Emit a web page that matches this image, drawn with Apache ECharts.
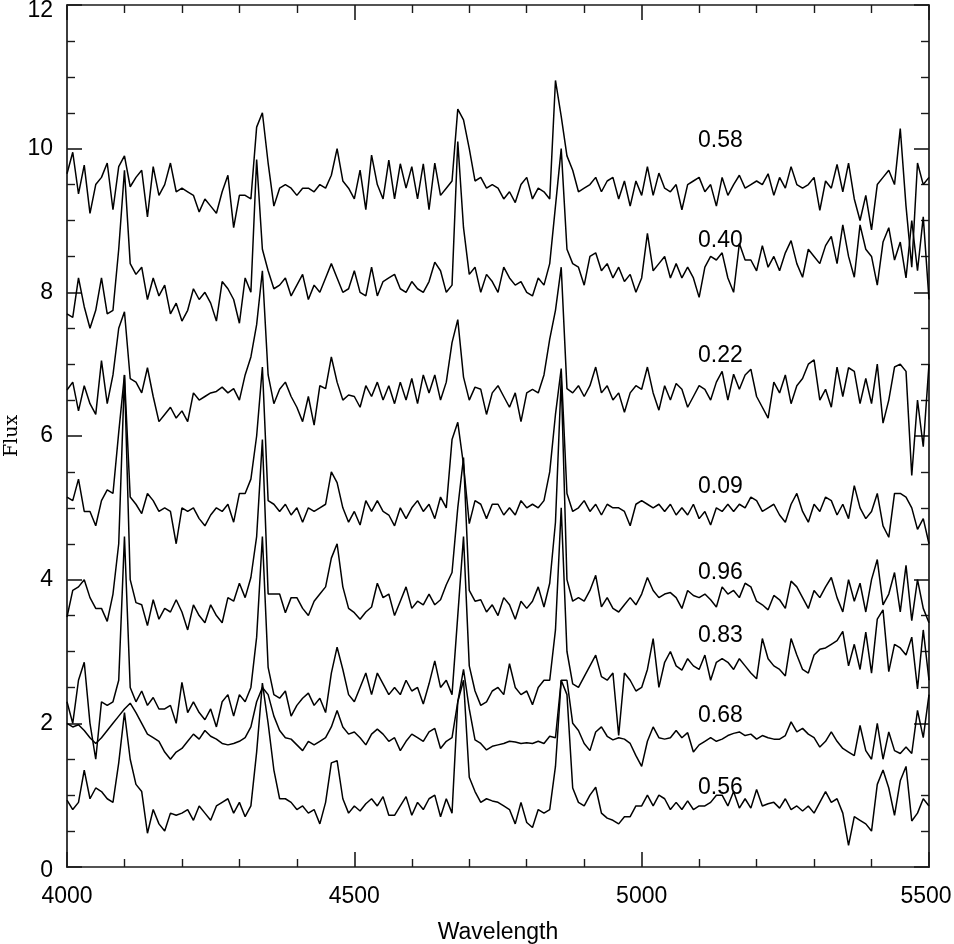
<!DOCTYPE html>
<html><head><meta charset="utf-8">
<script src="https://cdn.jsdelivr.net/npm/echarts@6/dist/echarts.min.js"></script>
<style>html,body{margin:0;padding:0;background:#fff}#c{width:954px;height:944px}</style>
</head><body><div id="c"></div>
<script>
// wavelength grid of the sampled spectra (Angstrom)
const WL_START = 4000, WL_STEP = 10;
const phases = ['0.58','0.40','0.22','0.09','0.96','0.83','0.68','0.56'];
const labelX = [5098,5098,5098,5098,5098,5098,5098,5098];
const labelY = [10.11,8.72,7.12,5.30,4.10,3.22,2.11,1.10];
const xTicks = [4000,4500,5000,5500];
const yTicks = [0,2,4,6,8,10,12];

const s058 = [9.65,9.95,9.37,9.77,9.1,9.5,9.6,9.8,9.15,9.75,
9.9,9.47,9.6,9.7,9.05,9.75,9.35,9.5,9.8,9.4,
9.45,9.4,9.35,9.12,9.3,9.2,9.1,9.4,9.63,8.9,
9.35,9.35,9.3,10.3,10.5,9.8,9.2,9.45,9.5,9.45,
9.35,9.45,9.45,9.4,9.5,9.45,9.63,10.0,9.55,9.45,
9.3,9.7,9.15,9.91,9.5,9.3,9.84,9.3,9.79,9.45,
9.75,9.3,9.79,9.15,9.8,9.35,9.45,9.55,10.55,10.4,
10.0,9.55,9.6,9.45,9.5,9.45,9.3,9.4,9.25,9.5,
9.6,9.3,9.45,9.4,9.3,10.95,10.45,9.9,9.7,9.4,
9.45,9.5,9.6,9.4,9.55,9.6,9.3,9.55,9.2,9.55,
9.35,9.75,9.35,9.66,9.45,9.4,9.5,9.15,9.5,9.55,
9.6,9.4,9.5,9.2,9.6,9.35,9.5,9.63,9.45,9.5,
9.55,9.5,9.65,9.35,9.6,9.45,9.75,9.5,9.45,9.5,
9.6,9.14,9.55,9.45,9.78,9.4,9.8,9.3,9.0,9.35,
8.87,9.5,9.6,9.7,9.5,10.28,9.2,8.35,9.8,9.5,9.6];

const s040 = [7.7,7.65,8.2,7.8,7.5,7.75,8.2,7.7,7.75,8.6,
9.7,8.4,8.25,8.35,7.9,8.2,7.95,8.1,7.7,7.85,
7.6,7.75,8.05,7.9,8.0,7.85,7.6,8.15,8.05,7.9,
7.57,8.2,8.0,9.85,8.6,8.3,8.05,8.1,8.2,7.95,
8.1,8.25,7.9,8.1,8.0,8.2,8.4,8.2,8.0,8.05,
8.3,8.0,7.95,8.35,7.95,8.15,8.2,8.25,8.05,8.0,
8.15,8.05,8.0,8.15,8.42,8.3,8.0,8.1,10.1,8.9,
8.25,8.35,8.0,8.25,8.15,8.0,8.35,8.2,8.1,8.15,
8.0,7.95,8.2,8.1,8.4,9.2,10.0,8.6,8.4,8.35,
8.1,8.5,8.55,8.3,8.4,8.2,8.35,8.15,8.25,8.0,
8.2,8.82,8.3,8.4,8.5,8.2,8.4,8.2,8.35,8.2,
7.93,8.35,8.5,8.45,8.55,8.2,8.0,8.68,8.45,8.45,
8.3,8.65,8.35,8.5,8.3,8.55,8.72,8.4,8.21,8.6,
8.5,8.4,8.65,8.78,8.4,8.94,8.5,8.21,8.94,8.6,
8.5,8.1,8.7,8.9,8.45,8.7,8.2,9.0,8.3,9.05,7.9];

const s022 = [6.64,6.75,6.35,6.7,6.45,6.3,7.05,6.45,6.85,7.5,
7.73,6.8,6.75,6.6,6.95,6.55,6.2,6.3,6.4,6.25,
6.35,6.2,6.6,6.5,6.55,6.6,6.62,6.68,6.6,6.66,
6.5,6.85,7.1,7.55,8.3,6.85,6.45,6.65,6.75,6.55,
6.4,6.2,6.55,6.15,6.7,6.66,7.1,6.75,6.5,6.57,
6.55,6.4,6.7,6.55,6.75,6.5,6.7,6.45,6.75,6.5,
6.8,6.45,6.85,6.6,6.85,6.5,6.75,7.3,7.62,6.82,
6.5,6.68,6.65,6.3,6.6,6.7,6.55,6.4,6.6,6.2,
6.6,6.65,6.6,6.85,7.35,7.75,8.35,6.66,6.6,6.7,
6.55,6.7,6.96,6.6,6.7,6.5,6.6,6.33,6.6,6.7,
6.65,6.96,6.6,6.36,6.7,6.5,6.73,6.65,6.4,6.55,
6.7,6.65,6.5,6.75,6.9,6.5,6.86,6.65,6.85,6.93,
6.55,6.4,6.25,6.75,6.6,6.85,6.45,6.7,6.8,7.0,
7.06,6.5,6.65,6.4,6.96,6.55,6.95,6.9,6.45,6.8,
6.45,7.0,6.18,6.5,6.96,7.0,6.9,5.45,6.5,5.85,7.0];

const s009 = [5.15,5.1,5.4,4.95,4.95,4.75,5.1,5.25,5.2,6.05,
6.85,5.15,5.05,4.92,5.2,5.1,4.95,5.0,4.95,4.5,
5.0,4.95,5.0,4.85,4.75,4.9,5.0,4.95,5.05,4.8,
5.2,5.2,5.4,6.0,6.96,5.1,5.05,4.95,5.05,4.9,
5.0,4.8,5.0,4.95,5.0,5.05,5.5,5.35,5.0,4.8,
4.95,4.76,5.1,4.95,5.1,4.95,4.9,4.75,5.0,4.85,
5.0,5.1,4.95,5.05,4.85,5.15,5.0,5.95,6.19,5.6,
4.78,5.1,5.05,4.85,5.05,5.05,4.9,5.0,4.9,5.1,
5.0,5.05,5.0,5.1,5.5,6.3,6.94,5.2,4.95,5.0,
5.1,4.95,5.05,4.9,5.05,5.0,5.0,4.95,4.75,5.05,
5.1,5.05,5.0,5.05,4.95,5.05,4.9,5.0,4.9,5.05,
4.85,4.95,4.76,5.0,4.95,5.05,4.95,5.05,5.0,5.15,
5.1,4.95,5.0,5.05,4.9,4.8,5.05,5.2,4.95,4.8,
5.05,4.95,5.15,5.1,4.9,5.05,4.85,5.31,5.0,4.85,
4.95,5.2,4.75,4.59,5.2,5.2,5.15,5.0,4.7,4.85,4.5];

const s096 = [3.48,3.85,3.9,4.0,3.75,3.6,3.6,3.42,3.8,4.5,
6.85,4.0,3.68,3.65,3.36,3.72,3.45,3.6,3.55,3.72,
3.55,3.3,3.65,3.5,3.4,3.65,3.5,3.4,3.75,3.7,
3.95,3.75,4.03,4.6,5.95,3.8,3.8,3.8,3.54,3.75,
3.75,3.6,3.5,3.7,3.8,3.9,4.3,4.5,3.9,3.6,
3.54,3.45,3.55,3.62,3.95,3.75,3.8,3.5,3.7,3.9,
3.6,3.7,3.65,3.8,3.65,3.72,3.93,4.1,5.0,5.7,
3.85,3.7,3.72,3.55,3.65,3.5,3.75,3.65,3.45,3.7,
3.6,3.7,3.9,3.62,3.95,4.8,6.8,4.0,3.7,3.75,
3.7,3.85,4.06,3.62,3.75,3.6,3.55,3.65,3.75,3.65,
3.8,4.03,3.85,3.75,3.8,3.82,3.75,3.6,3.85,3.78,
3.75,3.8,3.72,3.62,3.9,3.8,3.85,3.75,3.95,3.9,
3.7,3.65,3.58,3.78,3.72,3.6,3.98,3.9,3.75,3.6,
3.85,3.75,3.9,4.03,3.75,3.55,4.0,3.7,3.95,3.55,
4.0,4.28,3.65,3.8,4.1,3.55,4.2,3.43,4.0,3.6,3.4];

const s083 = [2.3,2.0,2.6,2.85,2.0,1.5,2.3,2.25,2.3,2.6,
4.6,2.5,2.3,2.45,2.25,2.36,2.2,2.2,2.25,2.0,
2.57,2.15,2.3,2.15,2.05,2.2,1.95,2.3,2.4,2.1,
2.4,2.3,2.5,3.2,4.6,2.78,2.4,2.35,2.45,2.1,
2.25,2.35,2.42,2.25,2.35,2.15,2.7,3.06,2.75,2.4,
2.3,2.5,2.7,2.4,2.7,2.55,2.4,2.5,2.4,2.6,
2.45,2.5,2.27,2.55,2.87,2.5,2.6,2.4,3.5,4.6,
2.8,2.45,2.25,2.3,2.45,2.5,2.4,2.83,2.5,2.4,
2.45,2.26,2.5,2.6,2.6,3.3,5.0,3.0,2.55,2.5,
2.65,2.8,2.95,2.65,2.6,2.7,1.83,2.7,2.6,2.45,
2.5,2.75,3.18,2.5,2.85,3.0,2.8,2.74,2.9,2.8,
2.75,2.95,2.6,2.85,2.9,2.85,2.75,2.9,2.8,2.7,
2.62,3.18,2.9,2.8,2.75,2.66,3.18,2.95,2.75,2.7,
2.95,3.03,3.05,3.1,3.15,3.28,2.8,3.1,2.75,3.27,
2.7,3.45,3.58,2.72,3.1,3.05,2.95,3.2,2.48,3.3,2.6];

const s068 = [2.0,1.95,1.98,1.9,1.8,1.72,1.8,1.9,2.0,2.1,
2.2,2.28,2.15,2.0,1.85,1.8,1.75,1.6,1.5,1.6,
1.65,1.75,1.85,1.78,1.9,1.82,1.78,1.72,1.7,1.72,
1.75,1.8,1.95,2.3,2.5,2.4,2.1,1.9,1.8,1.78,
1.7,1.62,1.75,1.7,1.75,1.8,1.95,2.18,1.95,1.85,
1.88,1.8,1.7,1.85,1.92,1.85,1.75,1.8,1.62,1.75,
1.85,1.8,1.75,1.88,1.93,1.65,1.75,1.8,2.3,2.75,
2.2,1.77,1.72,1.63,1.68,1.7,1.72,1.75,1.74,1.72,
1.73,1.72,1.75,1.72,1.82,1.8,2.6,2.6,2.0,1.9,
1.72,1.62,1.88,1.95,1.82,1.77,1.8,1.78,1.72,1.55,
1.4,1.75,1.95,1.8,1.78,1.8,1.9,1.8,1.87,1.6,
1.7,1.75,1.8,1.75,1.78,1.83,1.86,1.88,1.83,1.85,
1.78,1.83,1.8,1.78,1.78,1.83,2.02,1.88,1.93,1.85,
1.8,1.67,1.75,1.88,1.75,1.65,1.6,1.55,1.97,1.62,
1.5,2.0,1.5,1.88,1.62,1.58,1.67,1.58,2.18,1.8,2.4];

const s056 = [0.93,0.8,0.9,1.35,0.95,1.1,1.05,0.95,0.9,1.45,
2.15,1.5,1.15,1.05,0.47,0.8,0.6,0.5,0.75,0.72,
0.75,0.8,0.65,0.85,0.75,0.65,0.85,0.9,0.95,0.75,
0.9,0.7,0.85,1.6,2.56,2.0,1.35,0.95,0.95,0.9,
0.8,0.85,0.75,0.8,0.6,0.9,1.45,1.48,0.95,0.75,
0.85,0.78,0.88,0.95,0.85,0.98,0.72,0.72,0.85,0.98,
0.72,0.9,0.8,0.95,1.0,0.7,0.95,0.75,2.3,2.6,
1.25,1.05,0.9,0.95,0.92,0.9,0.85,0.8,0.6,0.9,
0.62,0.55,0.8,0.75,0.8,1.4,2.6,2.4,1.1,0.9,
0.85,1.0,1.11,0.75,0.68,0.65,0.6,0.7,0.7,0.85,
0.85,1.0,0.85,1.0,0.95,0.8,0.9,0.8,0.92,0.8,
0.85,0.85,0.9,1.0,1.0,0.85,1.05,0.82,0.95,0.82,
1.08,0.85,0.88,0.9,0.82,0.95,0.8,0.85,0.78,0.85,
0.75,0.9,1.05,0.9,0.95,0.75,0.3,0.7,0.65,0.6,
0.5,1.15,1.35,1.1,0.72,1.2,1.4,0.64,0.75,0.95,0.85];

const spectra = [s058,s040,s022,s009,s096,s083,s068,s056];

const FONT = 'Liberation Sans, Arial, Helvetica, sans-serif';
const AX = '#1a1a1a';

function toPairs(arr){ return arr.map((v,i)=>[WL_START + i*WL_STEP, v]); }

const lblStyle = {fontSize:23, color:'#000', fontFamily:FONT};

function xAx(pos, showLabel){
  const xMax = xTicks[xTicks.length-1];
  return {
    type:'value', position:pos, min:xTicks[0], max:xMax,
    interval:xTicks[1]-xTicks[0],
    axisLine:{show:true, onZero:false, lineStyle:{color:AX,width:1.7}},
    axisTick:{show:true, inside:true, length:15, lineStyle:{color:AX,width:1.6}},
    minorTick:{show:true, splitNumber:5, length:8, lineStyle:{color:AX,width:1.4}},
    splitLine:{show:false}, minorSplitLine:{show:false},
    axisLabel:{show:showLabel, fontSize:23, color:'#000', fontFamily:FONT, margin:18,
      formatter:(v)=> v===xMax ? '{r|'+v+'}' : String(v),
      rich:{r:Object.assign({padding:[0,6,0,0]}, lblStyle)}},
    name: showLabel ? 'Wavelength' : '',
    nameLocation:'middle', nameGap:54, nameMoveOverlap:false,
    nameTextStyle:{fontSize:23, color:'#000', fontFamily:FONT}
  };
}
function yAx(pos, showLabel){
  const yMax = yTicks[yTicks.length-1], yMin = yTicks[0];
  return {
    type:'value', position:pos, min:yMin, max:yMax,
    interval:yTicks[1]-yTicks[0],
    axisLine:{show:true, onZero:false, lineStyle:{color:AX,width:1.7}},
    axisTick:{show:true, inside:true, length:15, lineStyle:{color:AX,width:1.6}},
    minorTick:{show:true, splitNumber:4, length:8, lineStyle:{color:AX,width:1.4}},
    splitLine:{show:false}, minorSplitLine:{show:false},
    axisLabel:{show:showLabel, fontSize:23, color:'#000', fontFamily:FONT, margin:14,
      formatter:(v)=> v===yMax ? '{t|'+v+'}' : (v===yMin ? '{b|'+v+'}' : String(v)),
      rich:{t:Object.assign({padding:[11,0,0,0]}, lblStyle),
            b:Object.assign({padding:[8,0,0,0]}, lblStyle)}},
    name: showLabel ? 'Flux' : '',
    nameLocation:'middle', nameGap:45, nameRotate:90, nameMoveOverlap:false,
    nameTextStyle:{fontSize:19, color:'#000', fontFamily:'DejaVu Serif, Liberation Serif, serif'}
  };
}

const series = spectra.map((arr,k)=>({
  type:'line', name:phases[k], data:toPairs(arr), xAxisIndex:0, yAxisIndex:0,
  showSymbol:false, symbol:'none', silent:true, clip:true,
  lineStyle:{color:'#000', width:1.5}
}));
series.push({
  type:'scatter', xAxisIndex:0, yAxisIndex:0, symbolSize:0, silent:true,
  itemStyle:{color:'#000', opacity:1},
  data: phases.map((p,k)=>({name:p, value:[labelX[k], labelY[k]]})),
  label:{show:true, position:'right', distance:0, formatter:'{b}',
         fontSize:23, color:'#000', fontFamily:FONT, opacity:1}
});

const chart = echarts.init(document.getElementById('c'), null, {renderer:'canvas'});
chart.setOption({
  animation:false,
  backgroundColor:'#fff',
  grid:{left:67, right:25, top:5, bottom:77, containLabel:false, outerBoundsMode:'none'},
  xAxis:[xAx('bottom', true), xAx('top', false)],
  yAxis:[yAx('left', true), yAx('right', false)],
  series: series
});
</script>
</body></html>
